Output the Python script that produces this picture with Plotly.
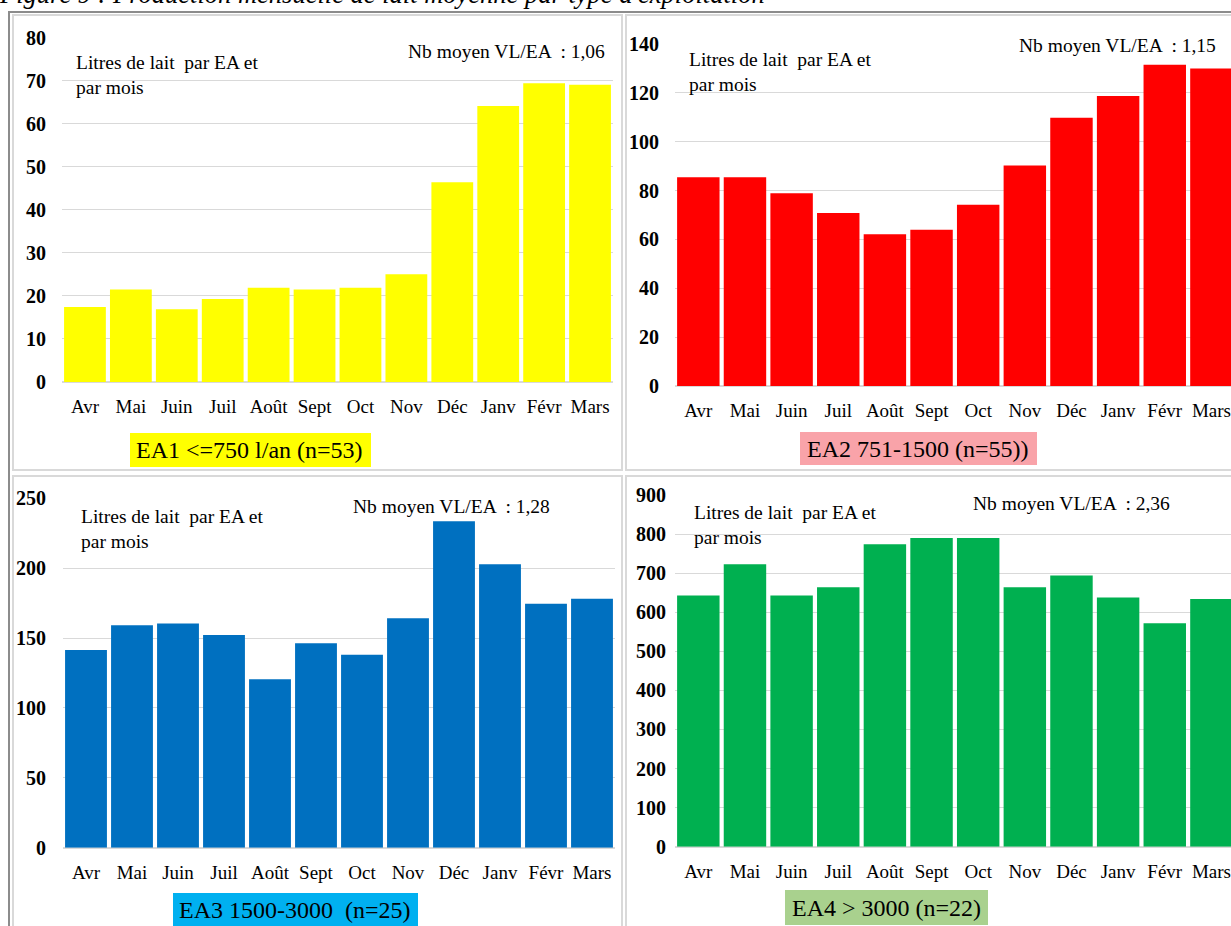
import plotly.graph_objects as go

W, H = 1231, 926

months = ["Avr", "Mai", "Juin", "Juil", "Août", "Sept", "Oct", "Nov", "Déc", "Janv", "Févr", "Mars"]

ea1 = [17.4, 21.5, 16.9, 19.3, 21.9, 21.5, 21.9, 25.0, 46.4, 64.1, 69.4, 69.0]
ea2 = [85.5, 85.5, 78.9, 70.8, 62.1, 64.0, 74.2, 90.3, 109.8, 118.7, 131.5, 130.0]
ea3 = [141.5, 159.1, 160.5, 152.2, 120.5, 146.2, 138.1, 164.1, 233.5, 202.8, 174.6, 178.2]
ea4 = [643, 723, 643, 664, 774, 790, 790, 664, 694, 638, 572, 634]

series = [ea1, ea2, ea3, ea4]
colors = ["#FFFF00", "#FF0000", "#0070C0", "#00B050"]
yranges = [80, 140, 250, 900]
ydticks = [10, 20, 50, 100]
nb_text = ["1,06", "1,15", "1,28", "2,36"]
group_labels = ["EA1 <=750 l/an (n=53)", "EA2 751-1500 (n=55))", "EA3 1500-3000  (n=25)", "EA4 > 3000 (n=22)"]
group_colors = ["#FFFF00", "#F9A3A9", "#00B0F0", "#A9D18E"]

SERIF = "Liberation Serif, Times New Roman, serif"


def px(x):
    return x / W


def py(y):
    return 1 - y / H


# plot areas in pixels: (x0, x1, ytop, ybottom)
areas = [
    (62, 613, 37.5, 382),
    (675, 1231, 44, 386),
    (63, 615, 498.3, 847.7),
    (675, 1231, 495, 846.7),
]
xmax = [11.5, 11.42, 11.5, 11.42]
ystand = [15, 15, 16, 8]

fig = go.Figure()
for i, (vals, col) in enumerate(zip(series, colors)):
    xa = "x" if i == 0 else f"x{i+1}"
    ya = "y" if i == 0 else f"y{i+1}"
    fig.add_trace(go.Bar(x=months, y=vals, marker=dict(color=col, line=dict(width=0)),
                         xaxis=xa, yaxis=ya, showlegend=False, hoverinfo="x+y"))
    x0, x1, yt, yb = areas[i]
    xkey = "xaxis" if i == 0 else f"xaxis{i+1}"
    ykey = "yaxis" if i == 0 else f"yaxis{i+1}"
    fig.layout[xkey] = dict(domain=[px(x0), px(x1)], anchor=ya, range=[-0.5, xmax[i]],
                            showgrid=False, showline=False, zeroline=False, ticks="",
                            automargin=False,
                            tickfont=dict(family=SERIF, size=19, color="#000000"),
                            ticklabelstandoff=11, fixedrange=True)
    fig.layout[ykey] = dict(domain=[py(yb), py(yt)], anchor=xa, range=[0, yranges[i]],
                            dtick=ydticks[i], showgrid=True, gridcolor="#D9D9D9", gridwidth=1.3,
                            zeroline=True, zerolinecolor="#D9D9D9", zerolinewidth=1.5,
                            showline=False, ticks="", automargin=False,
                            tickfont=dict(family=SERIF, size=20, color="#000000", weight="bold"),
                            ticklabelstandoff=ystand[i], fixedrange=True)

shapes = []
# outer frame
shapes.append(dict(type="rect", xref="paper", yref="paper", x0=px(9), x1=px(1245), y0=py(945), y1=py(12),
                   line=dict(color="#8C8C8C", width=2), layer="below"))
# panel frames
for (a, b, c, d) in [(13, 15, 622, 470), (626, 15, 1245, 470), (13, 476, 622, 945), (626, 476, 1245, 945)]:
    shapes.append(dict(type="rect", xref="paper", yref="paper", x0=px(a), x1=px(c), y0=py(d), y1=py(b),
                       line=dict(color="#D9D9D9", width=2), layer="below"))

# group label boxes (x0, y0, x1, y1)
boxes = [(130, 433, 371, 467), (800, 432, 1037, 465), (173, 893, 418, 935), (785, 890, 988, 925)]
for (a, b, c, d), gc in zip(boxes, group_colors):
    shapes.append(dict(type="rect", xref="paper", yref="paper", x0=px(a), x1=px(c), y0=py(d), y1=py(b),
                       fillcolor=gc, line=dict(width=0), layer="below"))

annotations = []
# title (clipped at top)
annotations.append(dict(text="<i>Figure 9 : Production mensuelle de lait moyenne par type d'exploitation</i>",
                        xref="paper", yref="paper", x=px(-3), y=py(11), xanchor="left", yanchor="bottom",
                        showarrow=False, font=dict(family=SERIF, size=26.5, color="#000000")))

litres_pos = [(74, 50), (687, 47), (79, 504), (692, 500)]
for (x, y) in litres_pos:
    annotations.append(dict(text="Litres de lait  par EA et<br>par mois", xref="paper", yref="paper",
                            x=px(x), y=py(y), xanchor="left", yanchor="top", align="left",
                            showarrow=False, font=dict(family=SERIF, size=19.5, color="#000000")))

nb_pos = [(607, 51), (1218, 46), (552, 507), (1172, 503)]
for (x, y), t in zip(nb_pos, nb_text):
    annotations.append(dict(text="Nb moyen VL/EA \u00a0: " + t, xref="paper", yref="paper",
                            x=px(x), y=py(y), xanchor="right", yanchor="middle",
                            showarrow=False, font=dict(family=SERIF, size=19.5, color="#000000")))

label_centers = [(250, 450), (918, 449), (295, 910), (886, 908)]
for (x, y), t in zip(label_centers, group_labels):
    annotations.append(dict(text=t.replace("<", "&lt;"), xref="paper", yref="paper",
                            x=px(x), y=py(y), xanchor="center", yanchor="middle",
                            showarrow=False, font=dict(family=SERIF, size=24, color="#000000")))

fig.update_layout(
    width=W, height=H,
    margin=dict(l=0, r=0, t=0, b=0, autoexpand=False),
    paper_bgcolor="#FFFFFF", plot_bgcolor="rgba(0,0,0,0)",
    bargap=0.09,
    shapes=shapes,
    annotations=annotations,
    showlegend=False,
)

fig.write_html(
    "out.html",
    config={"displayModeBar": False},
    post_script="document.body.style.margin='0';document.body.style.padding='0';"
                "document.documentElement.style.overflow='hidden';document.body.style.overflow='hidden';",
)
